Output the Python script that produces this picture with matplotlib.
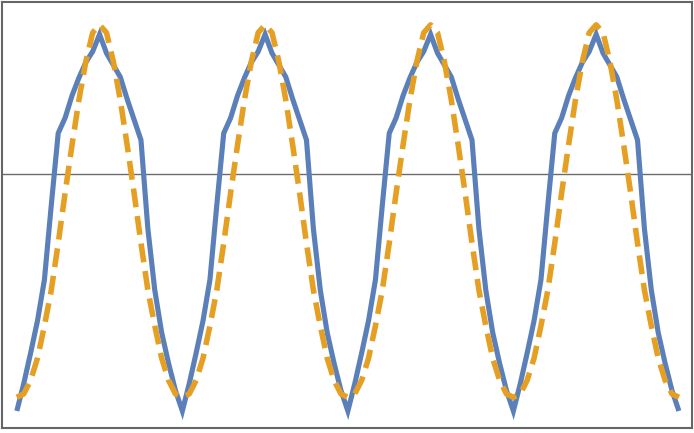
import matplotlib
matplotlib.use("Agg")
import matplotlib.pyplot as plt

# sample index (24 samples per cycle, 4 cycles)
x_values = list(range(97))

measured = [
    -1.39, -1.23, -1.05, -0.86, -0.62, -0.18, 0.24, 0.33, 0.46, 0.565, 0.655, 0.72,
    0.82, 0.71, 0.64, 0.57, 0.44, 0.32, 0.20, -0.32, -0.68, -0.93, -1.11, -1.27,
    -1.39, -1.23, -1.05, -0.86, -0.62, -0.18, 0.24, 0.33, 0.46, 0.565, 0.655, 0.72,
    0.82, 0.71, 0.64, 0.57, 0.44, 0.32, 0.20, -0.32, -0.68, -0.93, -1.11, -1.27,
    -1.39, -1.23, -1.05, -0.86, -0.62, -0.18, 0.24, 0.33, 0.46, 0.565, 0.655, 0.72,
    0.82, 0.71, 0.64, 0.57, 0.44, 0.32, 0.20, -0.32, -0.68, -0.93, -1.11, -1.27,
    -1.39, -1.23, -1.05, -0.86, -0.62, -0.18, 0.24, 0.33, 0.46, 0.565, 0.655, 0.72,
    0.82, 0.71, 0.64, 0.57, 0.44, 0.32, 0.20, -0.32, -0.68, -0.93, -1.11, -1.27,
    -1.39,
]

fitted = [
    -1.31, -1.29, -1.21, -1.08, -0.89, -0.68, -0.405, -0.11, 0.17, 0.435, 0.66, 0.83,
    0.876, 0.83, 0.66, 0.435, 0.17, -0.11, -0.405, -0.68, -0.89, -1.08, -1.21, -1.29,
    -1.31, -1.29, -1.21, -1.08, -0.89, -0.68, -0.405, -0.11, 0.17, 0.435, 0.66, 0.83,
    0.876, 0.83, 0.66, 0.435, 0.17, -0.11, -0.405, -0.68, -0.89, -1.08, -1.21, -1.29,
    -1.31, -1.29, -1.21, -1.08, -0.89, -0.68, -0.405, -0.11, 0.17, 0.435, 0.66, 0.83,
    0.876, 0.83, 0.66, 0.435, 0.17, -0.11, -0.405, -0.68, -0.89, -1.08, -1.21, -1.29,
    -1.31, -1.29, -1.21, -1.08, -0.89, -0.68, -0.405, -0.11, 0.17, 0.435, 0.66, 0.83,
    0.876, 0.83, 0.66, 0.435, 0.17, -0.11, -0.405, -0.68, -0.89, -1.08, -1.21, -1.29,
    -1.31,
]

W, H = 694, 433
fig = plt.figure(figsize=(W / 100, H / 100), dpi=100)
ax = fig.add_axes([2 / W, 5 / H, 690 / W, 426 / H])

ax.axhline(0, color="#6b6b6b", lw=1.0, zorder=1)
ax.plot(x_values, measured, color="#5b80b9", lw=3.7, solid_joinstyle="miter",
        solid_capstyle="butt", zorder=2)
ax.plot(x_values, fitted, color="#e5a024", lw=4.0, dashes=(3.4, 1.6),
        dash_capstyle="butt", zorder=3)

ax.set_xlim(-2.15, 97.9)
ax.set_ylim(-1.49, 1.01)
ax.set_xticks([])
ax.set_yticks([])
for s in ax.spines.values():
    s.set_color("#666666")
    s.set_linewidth(1.5)

fig.savefig("out.png", dpi=100)
